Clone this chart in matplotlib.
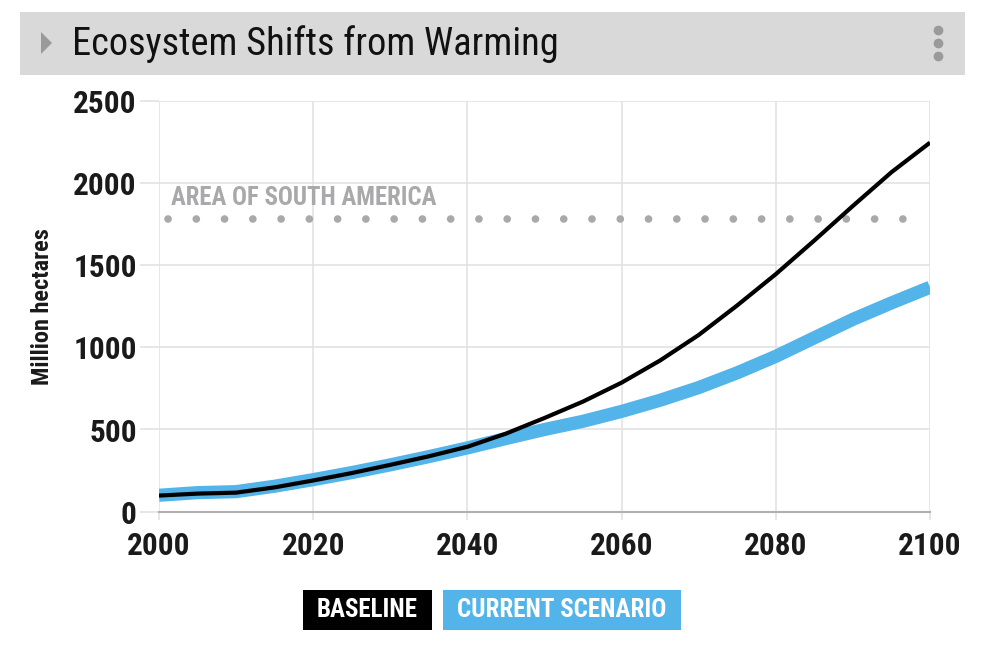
import numpy as np
import matplotlib
matplotlib.use('Agg')
import matplotlib.pyplot as plt
from matplotlib.patches import Rectangle, Polygon
from matplotlib.lines import Line2D

# ── Data ──────────────────────────────────────────────────────────────────────
years = [2000, 2005, 2010, 2015, 2020, 2025, 2030, 2035, 2040, 2045, 2050,
         2055, 2060, 2065, 2070, 2075, 2080, 2085, 2090, 2095, 2100]
baseline = [98, 110, 116, 148, 190, 235, 285, 337, 395, 475, 570,
            670, 785, 920, 1075, 1255, 1445, 1650, 1860, 2065, 2245]
current = [100, 116, 122, 155, 195, 238, 285, 335, 388, 445, 500,
           550, 610, 678, 755, 845, 945, 1058, 1170, 1270, 1365]
south_america = 1780
ref_span = [2001.2, 2097.5]
ref_label = 'AREA OF SOUTH AMERICA'

x_ticks = [2000, 2020, 2040, 2060, 2080, 2100]
y_ticks = [0, 500, 1000, 1500, 2000, 2500]

title = 'Ecosystem Shifts from Warming'
y_label = 'Million hectares'
legend_labels = ['BASELINE', 'CURRENT SCENARIO']

# ── Style ─────────────────────────────────────────────────────────────────────
FONT = ['Roboto Condensed', 'Liberation Sans Narrow', 'DejaVu Sans']
plt.rcParams['font.family'] = FONT
blue = '#52b4e9'
grid_c = '#e3e3e3'
dot_c = '#a9a9ab'

W, H = 994, 650
fig = plt.figure(figsize=(W / 100, H / 100), dpi=100)
fig.patch.set_facecolor('white')

def fx(px):
    return px / W

def fy(py):
    return 1 - py / H

# title bar
fig.add_artist(Rectangle((fx(20), fy(75)), fx(965) - fx(20), fy(12) - fy(75),
                         transform=fig.transFigure, facecolor='#d9d9d9',
                         edgecolor='none', zorder=0))
fig.add_artist(Polygon([(fx(41), fy(32)), (fx(41), fy(54)), (fx(52), fy(43))],
                       closed=True, transform=fig.transFigure,
                       facecolor='#9a9a9a', edgecolor='none'))
fig.add_artist(Line2D([fx(938)] * 3, [fy(30), fy(43), fy(56)],
                      transform=fig.transFigure, marker='o', ls='none',
                      markersize=6, color='#9a9a9a'))
fig.text(fx(72), fy(44), title, fontsize=27.6, color='#111111',
         ha='left', va='center')

# ── Axes ──────────────────────────────────────────────────────────────────────
ax = fig.add_axes([fx(159), fy(511.7), fx(930) - fx(159), fy(100.7) - fy(511.7)])
ax.set_xlim(2000, 2100)
ax.set_ylim(0, 2500)
ax.set_xticks(x_ticks)
ax.set_yticks(y_ticks)
ax.grid(True, color=grid_c, lw=1.2, zorder=0)
ax.set_axisbelow(True)
for s in ['top', 'right', 'left']:
    ax.spines[s].set_visible(False)
ax.spines['bottom'].set_color('#b0b0b0')
ax.spines['bottom'].set_linewidth(1.5)
ax.tick_params(axis='y', length=14, width=1.2, color=grid_c, pad=2,
               labelsize=22.5, labelcolor='#1a1a1a')
ax.tick_params(axis='x', length=6, width=1.2, color=grid_c, pad=8,
               labelsize=22.5, labelcolor='#1a1a1a')
for lab in ax.get_xticklabels() + ax.get_yticklabels():
    lab.set_fontweight('bold')

ax.set_ylabel(y_label, fontsize=17.5, fontweight='bold', color='#1a1a1a',
              labelpad=14)

# reference line
ax.plot(ref_span, [south_america] * 2, color=dot_c, lw=5.5,
        linestyle=(0, (0.01, 3.69)), dash_capstyle='round',
        solid_capstyle='round', zorder=2)
ax.text(2001.5, south_america + 55, ref_label, fontsize=17.8, fontweight='bold',
        color=dot_c, ha='left', va='bottom')

# series
ax.plot(years, current, color=blue, lw=9.5, solid_capstyle='butt',
        solid_joinstyle='round', zorder=3)
ax.plot(years, baseline, color='black', lw=3, solid_capstyle='butt',
        solid_joinstyle='round', zorder=4)

# ── Legend boxes ─────────────────────────────────────────────────────────────
fig.add_artist(Rectangle((fx(303), fy(630)), fx(432) - fx(303), fy(590) - fy(630),
                         transform=fig.transFigure, facecolor='black',
                         edgecolor='none'))
fig.add_artist(Rectangle((fx(443), fy(630)), fx(681) - fx(443), fy(590) - fy(630),
                         transform=fig.transFigure, facecolor=blue,
                         edgecolor='none'))
fig.text(fx(367.5), fy(610), legend_labels[0], fontsize=18, fontweight='bold',
         color='white', ha='center', va='center')
fig.text(fx(562), fy(610), legend_labels[1], fontsize=18, fontweight='bold',
         color='white', ha='center', va='center')

fig.savefig('out.png', dpi=100, facecolor='white')
